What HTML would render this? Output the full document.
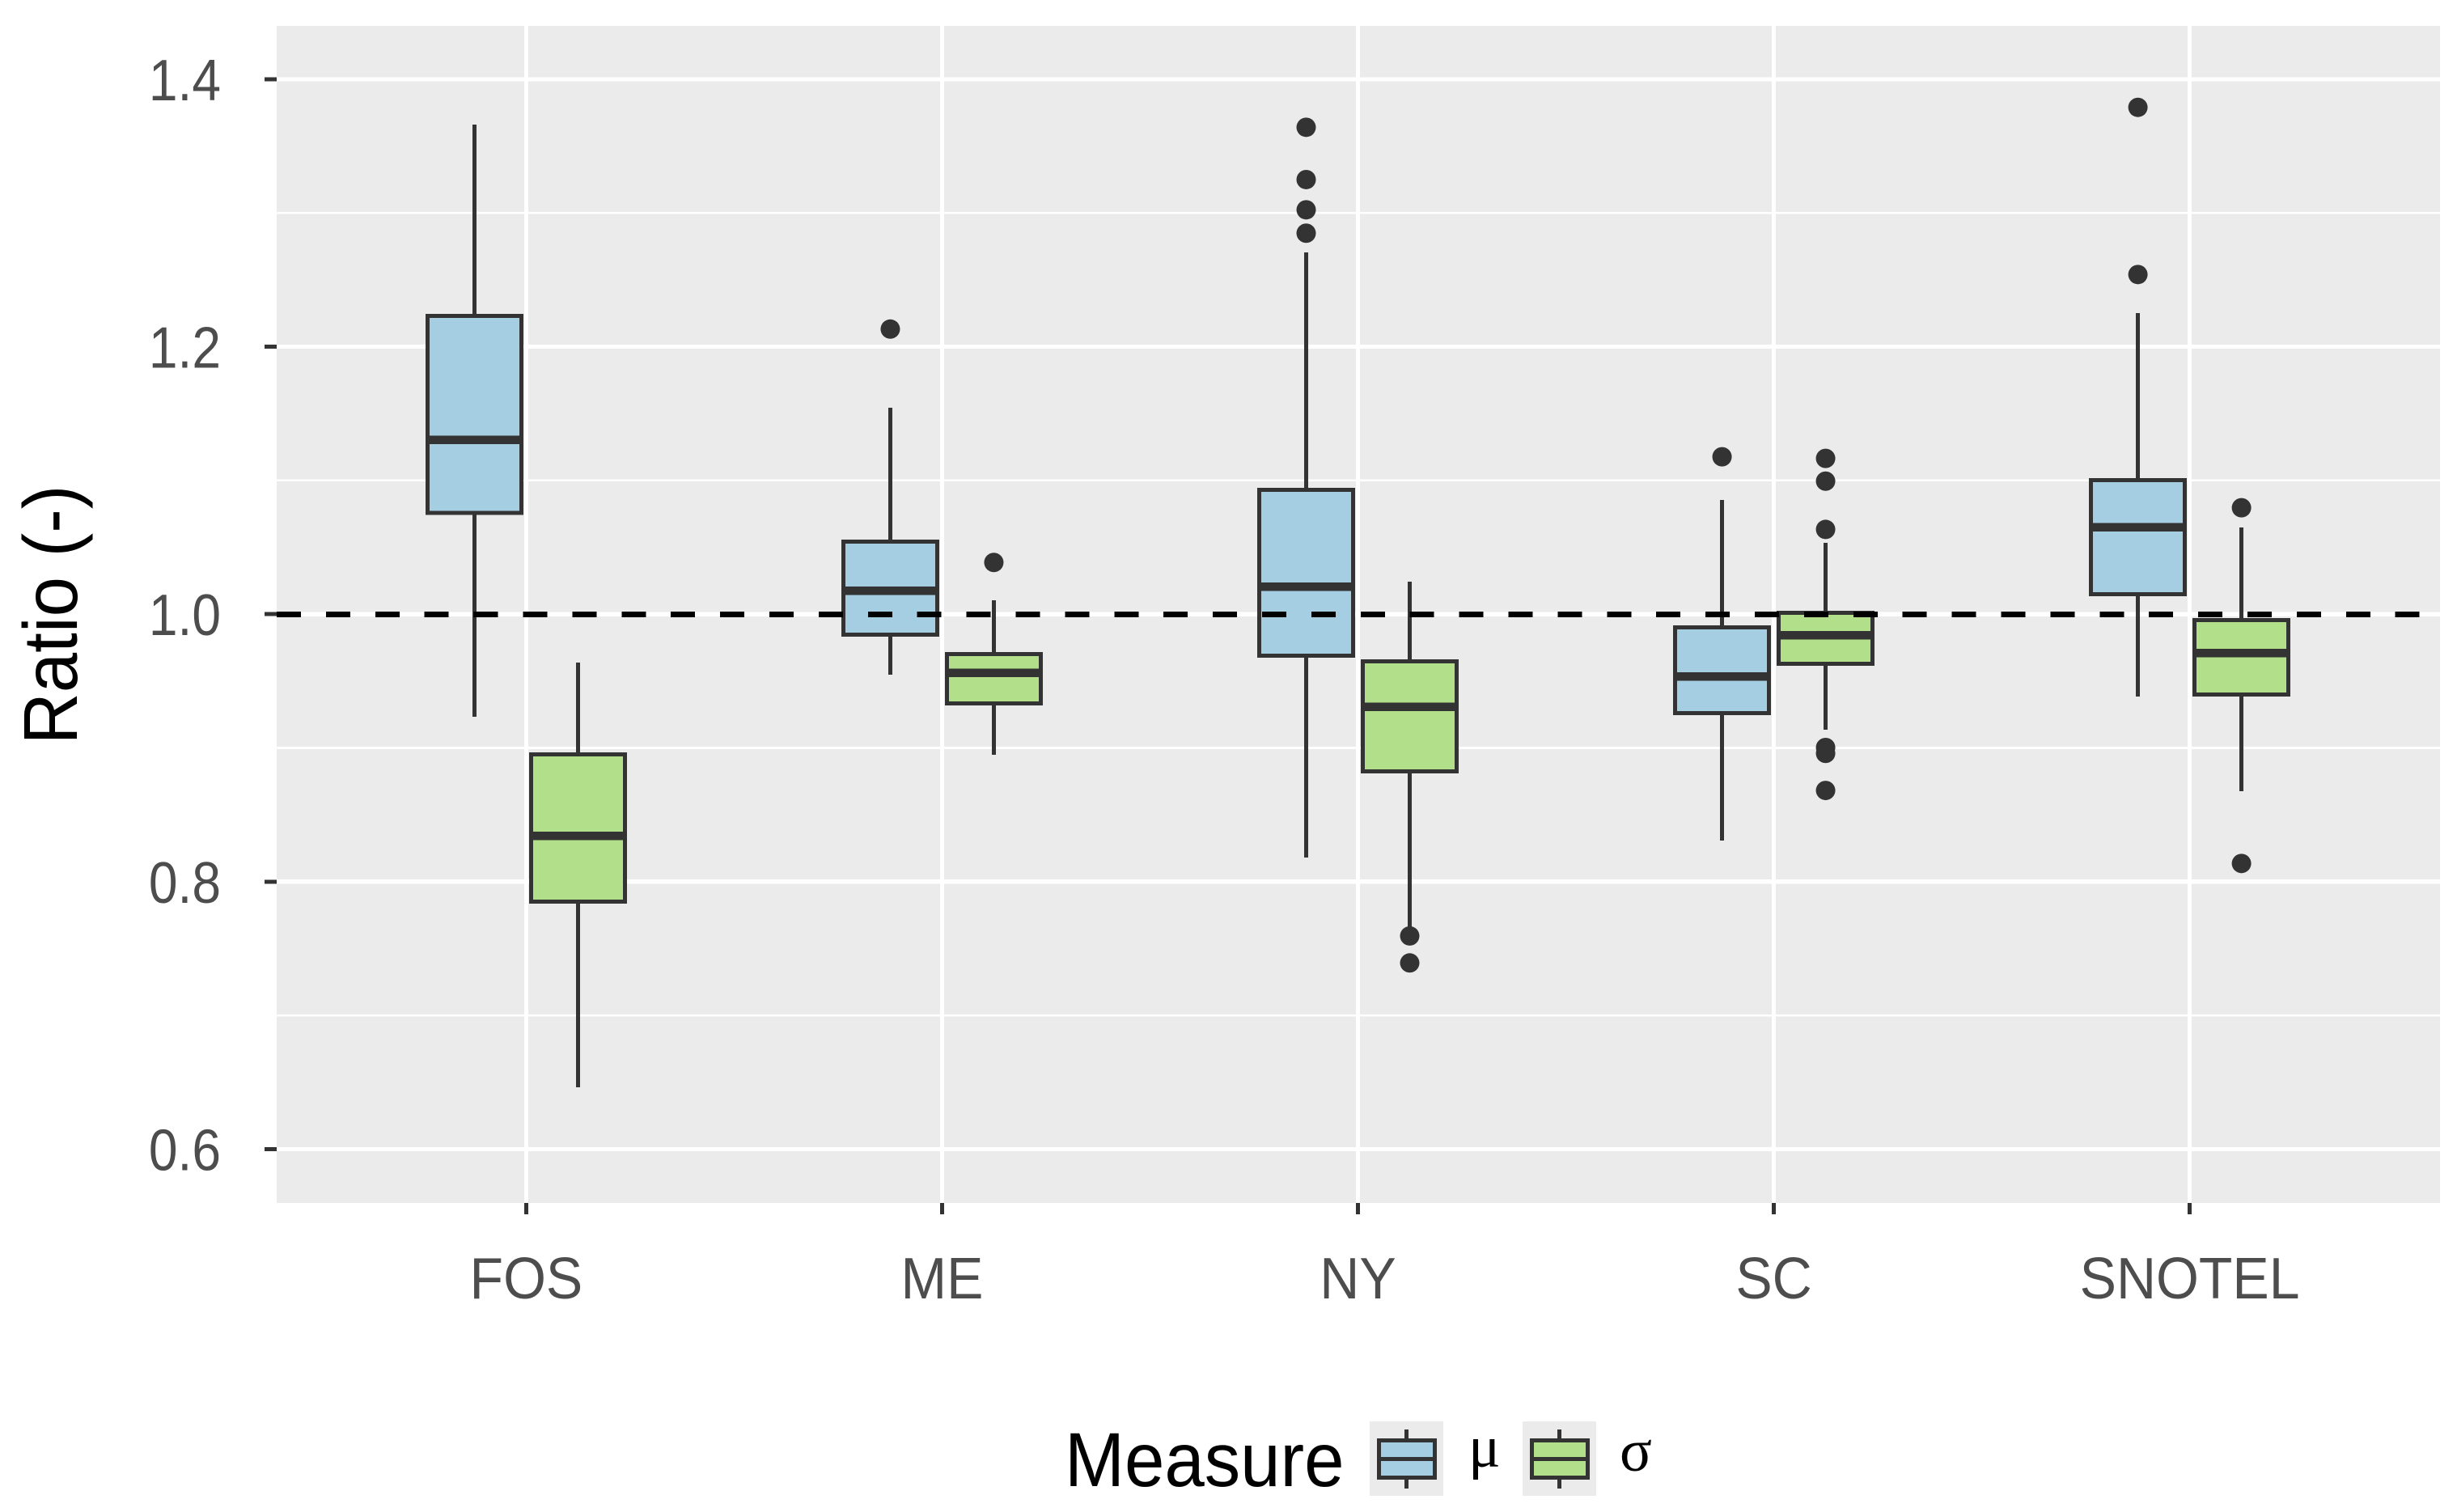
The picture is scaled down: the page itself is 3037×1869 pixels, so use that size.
<!DOCTYPE html>
<html lang="en">
<head>
<meta charset="utf-8">
<title>Ratio by network and measure</title>
<style>
  html, body { margin: 0; padding: 0; background: #ffffff; }
  svg { display: block; }
  text { font-family: "Liberation Sans", Arial, sans-serif; }
  .legend-symbol { font-family: "Liberation Serif", "Times New Roman", serif; }
  #grid line, #ticks line, #marks line, #marks rect, #ref line { shape-rendering: crispEdges; }
</style>
</head>
<body>
<svg id="chart" xmlns="http://www.w3.org/2000/svg" width="3037" height="1869" viewBox="0 0 3037 1869">
  <rect x="0" y="0" width="3037" height="1869" fill="#ffffff"/>
  <rect x="342" y="32" width="2674" height="1455" fill="#EBEBEB"/>
  <g id="grid"></g>
  <g id="ticks"></g>
  <g id="marks"></g>
  <g id="ref"></g>
  <g id="labels"></g>

  <text transform="translate(95 760) rotate(-90) scale(0.94 1)" x="0" y="0" text-anchor="middle" font-size="94.5" fill="#000000">Ratio (-)</text>

  <g>
    <text transform="translate(1316 1837) scale(0.94 1)" x="0" y="0" font-size="94.5" fill="#000000">Measure</text>

    <g>
      <rect x="1693" y="1757" width="91" height="92" fill="#EBEBEB"/>
      <line x1="1738.5" x2="1738.5" y1="1767" y2="1780" stroke="#333333" stroke-width="5"/>
      <line x1="1738.5" x2="1738.5" y1="1827" y2="1840" stroke="#333333" stroke-width="5"/>
      <rect x="1704.5" y="1780.5" width="69" height="46" fill="#A6CEE3" stroke="#333333" stroke-width="5"/>
      <line x1="1702" x2="1776" y1="1803.5" y2="1803.5" stroke="#333333" stroke-width="5"/>
      <text class="legend-symbol" x="1815" y="1813" font-size="74" fill="#000000">μ</text>
    </g>

    <g>
      <rect x="1882" y="1757" width="91" height="92" fill="#EBEBEB"/>
      <line x1="1927.5" x2="1927.5" y1="1767" y2="1780" stroke="#333333" stroke-width="5"/>
      <line x1="1927.5" x2="1927.5" y1="1827" y2="1840" stroke="#333333" stroke-width="5"/>
      <rect x="1893.5" y="1780.5" width="69" height="46" fill="#B2DF8A" stroke="#333333" stroke-width="5"/>
      <line x1="1891" x2="1965" y1="1803.5" y2="1803.5" stroke="#333333" stroke-width="5"/>
      <text class="legend-symbol" x="2002" y="1818" font-size="74" fill="#000000">σ</text>
    </g>
  </g>
</svg>

<script>
const categories = ['FOS', 'ME', 'NY', 'SC', 'SNOTEL'];

const muHigh   = [1.3661, 1.1544, 1.2705, 1.0854, 1.2252];
const muQ3     = [1.2232, 1.0543, 1.0930, 0.9901, 1.1002];
const muMedian = [1.1302, 1.0174, 1.0205, 0.9535, 1.0649];
const muQ1     = [1.0757, 0.9847, 0.9690, 0.9260, 1.0149];
const muLow    = [0.9233, 0.9548, 0.8180, 0.8307, 0.9384];
const muOutliers = [
  [],
  [1.2132],
  [1.3641, 1.3250, 1.3024, 1.2849],
  [1.1177],
  [1.3790, 1.2540]
];

const sigmaHigh   = [0.9638, 1.0104, 1.0243, 1.0534, 1.0649];
const sigmaQ3     = [0.8952, 0.9702, 0.9647, 1.0010, 0.9956];
const sigmaMedian = [0.8342, 0.9560, 0.9306, 0.9842, 0.9709];
const sigmaQ1     = [0.7851, 0.9333, 0.8825, 0.9629, 0.9399];
const sigmaLow    = [0.6462, 0.8950, 0.7620, 0.9136, 0.8676];
const sigmaOutliers = [
  [],
  [1.0387],
  [0.7594, 0.7392],
  [1.1165, 1.0995, 1.0634, 0.9003, 0.8959, 0.8682],
  [1.0796, 0.8136]
];

const yMajorTicks = [0.6, 0.8, 1.0, 1.2, 1.4];
const yMinorTicks = [0.7, 0.9, 1.1, 1.3];
const yTickLabels = ['0.6', '0.8', '1.0', '1.2', '1.4'];
const referenceValue = [1.0];

const SVG_NS = 'http://www.w3.org/2000/svg';
const panel = { left: 342, right: 3016, top: 32, bottom: 1487 };

function yScale(v) { return 759.2 - (v - 1) * 1653; }
function xScale(i) { return 650.4 + i * 514.05; }

const dodge = 64;
const boxWidth = 116;
const ink = '#333333';

function make(parent, tag, attrs) {
  const node = document.createElementNS(SVG_NS, tag);
  for (const key in attrs) node.setAttribute(key, attrs[key]);
  parent.appendChild(node);
  return node;
}

const gridGroup = document.getElementById('grid');
const tickGroup = document.getElementById('ticks');
const markGroup = document.getElementById('marks');
const refGroup = document.getElementById('ref');
const labelGroup = document.getElementById('labels');

yMinorTicks.forEach(function (v) {
  const line = make(gridGroup, 'line', { x1: panel.left, x2: panel.right, y1: yScale(v), y2: yScale(v), stroke: '#ffffff', 'stroke-width': 2.6 });
  
  
});

yMajorTicks.forEach(function (v, i) {
  const line = make(gridGroup, 'line', { x1: panel.left, x2: panel.right, y1: yScale(v), y2: yScale(v), stroke: '#ffffff', 'stroke-width': 5.2 });
  
  

  const tick = make(tickGroup, 'line', { x1: panel.left - 15, x2: panel.left, y1: yScale(v), y2: yScale(v), stroke: ink, 'stroke-width': 5 });
  
  

  const label = make(labelGroup, 'text', { x: 0, y: 0, transform: 'translate(273 ' + (yScale(v) + 26) + ') scale(0.89 1)', 'text-anchor': 'end', 'font-size': 72, fill: '#4D4D4D' });
  label.textContent = yTickLabels[i];
  
  
});

categories.forEach(function (cat, i) {
  const line = make(gridGroup, 'line', { x1: xScale(i), x2: xScale(i), y1: panel.top, y2: panel.bottom, stroke: '#ffffff', 'stroke-width': 5.2 });
  
  

  const tick = make(tickGroup, 'line', { x1: xScale(i), x2: xScale(i), y1: panel.bottom, y2: panel.bottom + 14, stroke: ink, 'stroke-width': 5 });
  
  

  const label = make(labelGroup, 'text', { x: 0, y: 0, transform: 'translate(' + xScale(i) + ' 1605) scale(0.935 1)', 'text-anchor': 'middle', 'font-size': 72.7, fill: '#4D4D4D' });
  label.textContent = cat;
  
  
});

function drawSeries(key, fill, offset, high, q3, median, q1, low, outliers) {
  categories.forEach(function (cat, i) {
    const cx = xScale(i) + offset;

    const upper = make(markGroup, 'line', { x1: cx, x2: cx, y1: yScale(high[i]), y2: yScale(q3[i]), stroke: ink, 'stroke-width': 5 });
    
    

    const lower = make(markGroup, 'line', { x1: cx, x2: cx, y1: yScale(q1[i]), y2: yScale(low[i]), stroke: ink, 'stroke-width': 5 });
    
    

    const box = make(markGroup, 'rect', { x: cx - boxWidth / 2, y: yScale(q3[i]), width: boxWidth, height: yScale(q1[i]) - yScale(q3[i]), fill: fill, stroke: ink, 'stroke-width': 5 });
    
    

    const med = make(markGroup, 'line', { x1: cx - boxWidth / 2, x2: cx + boxWidth / 2, y1: yScale(median[i]), y2: yScale(median[i]), stroke: ink, 'stroke-width': 10.5 });
    
    

    outliers[i].forEach(function (v, j) {
      const dot = make(markGroup, 'circle', { cx: cx, cy: yScale(v), r: 12, fill: ink });
      
      
    });
  });
}

drawSeries('mu', '#A6CEE3', -dodge, muHigh, muQ3, muMedian, muQ1, muLow, muOutliers);
drawSeries('sigma', '#B2DF8A', dodge, sigmaHigh, sigmaQ3, sigmaMedian, sigmaQ1, sigmaLow, sigmaOutliers);

referenceValue.forEach(function (v) {
  const dash = make(refGroup, 'line', { x1: panel.left, x2: panel.right, y1: yScale(v) + 0.3, y2: yScale(v) + 0.3, stroke: '#000000', 'stroke-width': 7, 'stroke-dasharray': '30 30.9' });
  
  
});
</script>
</body>
</html>
